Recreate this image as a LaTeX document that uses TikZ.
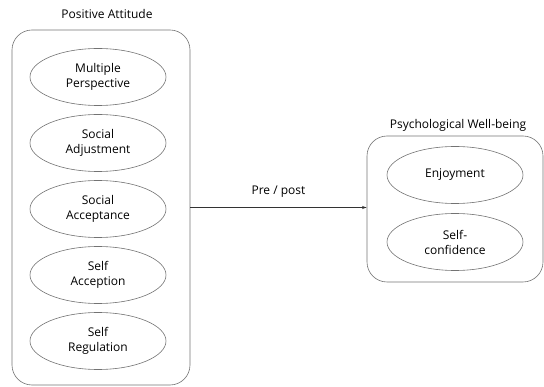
\documentclass[tikz,border=0pt]{standalone}
\usepackage{fontspec}
\setmainfont{Open Sans}
\usetikzlibrary{shapes.geometric}
\tikzset{
	groupbox/.style={draw=black!55, rounded corners=20pt, line width=.6pt},
	factor/.style={draw=black!55, ellipse, line width=.6pt, minimum width=136pt, minimum height=57pt, align=center, inner sep=0pt, font=\fontsize{12}{15}\selectfont},
	grouptitle/.style={font=\fontsize{12}{15}\selectfont}
}
\begin{document}
\begin{tikzpicture}[x=1pt,y=-1pt]
				\useasboundingbox (0,0) rectangle (544,387);
				\coordinate (a0) at (101,207.5);
				\coordinate (b0) at (455,209);
				%
				\node[groupbox, minimum width=178pt, minimum height=355pt] (pa) at (a0) {};
				\node[groupbox, minimum width=176pt, minimum height=146pt] (pw) at (b0) {};
				\node[grouptitle] (tpa) at (107,14) {Positive Attitude};
				\node[grouptitle] (tpw) at (458,125) {Psychological Well-being};
				%
				\foreach \t [count=\i] in {Multiple\\Perspective, Social\\Adjustment, Social\\Acceptance, Self\\Acception, Self\\Regulation}
				\node[factor] (f\i) at (98,{11+66*\i}) {\t};
				\node[factor] (g1) at (455,175) {Enjoyment};
				\node[factor] (g2) at (455,242) {Self-\\confidence};
				%
				\draw[-latex, black!80, line width=.5pt] (pa.east) -- (pa.east -| pw.west) node[midway, above=7pt, font=\fontsize{12}{15}\selectfont, black] {Pre / post};
			\end{tikzpicture}
\end{document}
